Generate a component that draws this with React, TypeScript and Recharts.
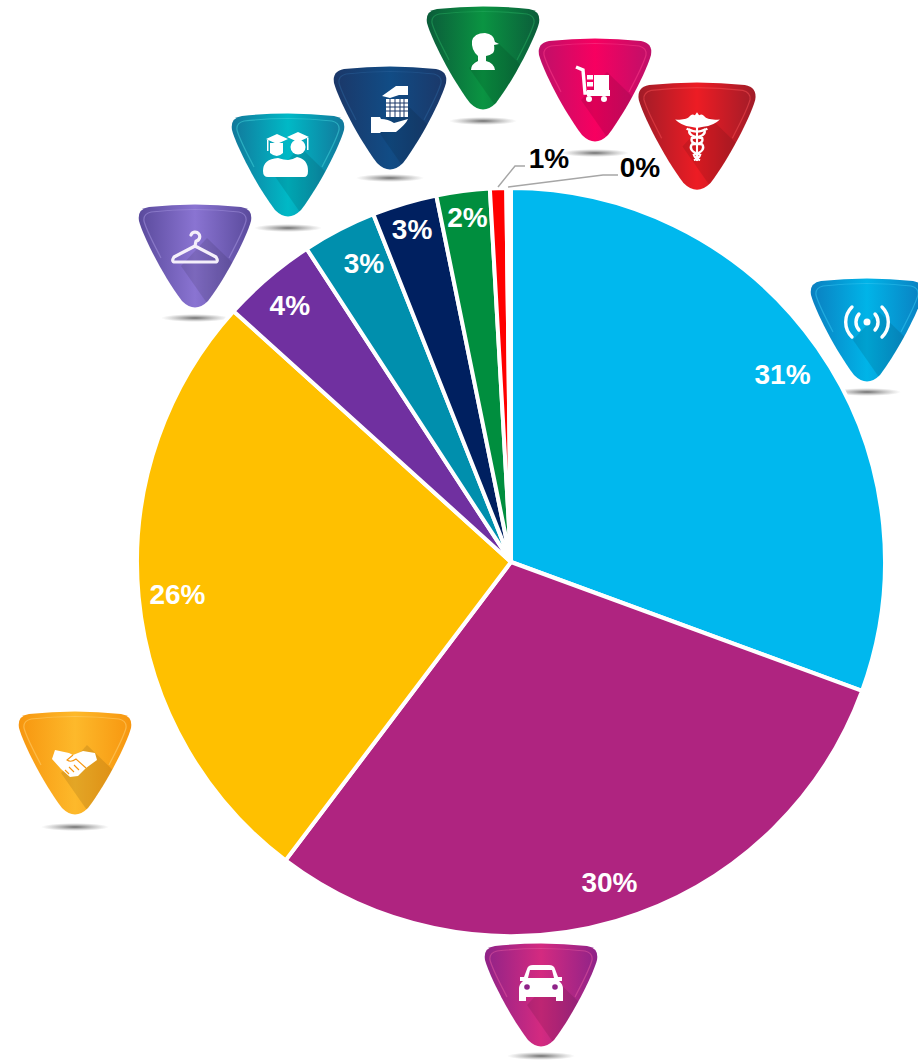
import React from "react";
import { PieChart, Pie, Cell, Customized } from "recharts";

const sectors = ["Telecom", "Auto", "Services", "Apparel", "Education", "Real estate", "Defence", "Retail", "Health"];
const shares = [30.6, 29.7, 26.4, 4.1, 3.2, 2.8, 2.3, 0.7, 0.2];
const sliceColors = ["#00B8EE", "#AF2480", "#FFC000", "#7030A0", "#008FAD", "#002060", "#008E3E", "#FF0000", "#FFFFFF"];
const labelColors = ["#fff", "#fff", "#fff", "#fff", "#fff", "#fff", "#fff", "#000", "#000"];

const data = sectors.map((name, i) => ({ name, value: shares[i] }));

const CX = 511;
const CY = 562;
const R = 374;

// label placement: radial distance plus a nudge, or a leader line for the thin slices
const labelRadius = [330, 335, 335, 339, 333, 347, 347, 0, 0];
const labelNudge = [[1, 1], [4, -1], [0, 1], [-1, 1], [6, -3], [0, 0], [1, 0], [0, 0], [0, 0]];
const leaders: Record<number, { pts: string; x: number; y: number }> = {
  7: { pts: "498,187 515,166 525,166", x: 549, y: 158 },
  8: { pts: "508,187 603,175 618,175", x: 640, y: 167 },
};

const badges = [
  { id: "wifi", x: 867, top: 278, edge: "#0B7FC0", mid: "#00B4E8", line: "#35C4F0", shadow: 392, k: 1 },
  { id: "car", x: 541, top: 943, edge: "#8F2388", mid: "#D42A80", line: "#E0559F", shadow: 1056, k: 1 },
  { id: "hands", x: 75, top: 711, edge: "#F7960F", mid: "#FDB92B", line: "#FFD070", shadow: 827, k: 1 },
  { id: "hanger", x: 195, top: 204, edge: "#5A4A9C", mid: "#8A74D2", line: "#A494DE", shadow: 318, k: 1 },
  { id: "grad", x: 288, top: 113, edge: "#12789B", mid: "#00B9C6", line: "#40D0D8", shadow: 228, k: 1 },
  { id: "build", x: 390, top: 66, edge: "#1B3768", mid: "#114C85", line: "#2A5F98", shadow: 178, k: 1 },
  { id: "person", x: 483, top: 6, edge: "#0B5C3A", mid: "#0A9442", line: "#25A85C", shadow: 121, k: 1 },
  { id: "cart", x: 595, top: 38, edge: "#BE1069", mid: "#F70060", line: "#FA3A88", shadow: 153, k: 1 },
  { id: "med", x: 697, top: 82, edge: "#A01C28", mid: "#ED1C24", line: "#F04A50", shadow: 0, k: 1.04 },
];

const BADGE =
  "M-46 3 Q0 -2 46 3 Q58 5 56 17 C52 32 32 72 13 97 Q0 110 -13 97 C-32 72 -52 32 -56 17 Q-58 5 -46 3 Z";
const INNER =
  "M-44 8 Q0 3 44 8 Q52 10 51 17 C48 28 40 42 34 54 M-34 54 C-40 42 -48 28 -51 17 Q-52 10 -44 8";

function Icon({ id, dark }: { id: string; dark: string }) {
  const w = "#fff";
  switch (id) {
    case "wifi":
      return (
        <g fill="none" stroke={w} strokeWidth={3.4} strokeLinecap="round">
          <circle cx={0} cy={44} r={3.5} fill={w} stroke="none" />
          <path d="M-8 36 A12 12 0 0 0 -8 52 M8 36 A12 12 0 0 1 8 52" />
          <path d="M-15 29 A21 21 0 0 0 -15 59 M15 29 A21 21 0 0 1 15 59" />
        </g>
      );
    case "car":
      return (
        <g>
          <path
            fillRule="evenodd"
            fill={w}
            d="M-14 26 Q-13 22 -8 22 H8 Q13 22 14 26 L17 34 H21 V38 H18 Q22 41 22 46 V58 H15 V54 H-15 V58 H-22 V46 Q-22 41 -18 38 H-21 V34 H-17 Z M-11 27 H11 L13 35 H-13 Z"
          />
          <circle cx={-14} cy={44} r={2.8} fill={dark} />
          <circle cx={14} cy={44} r={2.8} fill={dark} />
        </g>
      );
    case "hands":
      return (
        <g>
          <path
            fill={w}
            d="M-20 39 L-6 42 L-2 44 L8 40 L20 42 L22 49 L11 57 L3 65 L-5 66 L-14 58 L-23 48 Z"
          />
          <path d="M-2 44 L-8 49 Q-4 52 1 48 L11 57 M-10 59 L-6 63 M-6 56 L-1 61 M-1 54 L4 59" fill="none" stroke={dark} strokeWidth={1.1} />
        </g>
      );
    case "hanger":
      return (
        <path
          fill="none"
          stroke="#F4EFFA"
          strokeWidth={3.2}
          strokeLinecap="round"
          strokeLinejoin="round"
          d="M-4 31 A4.5 4.5 0 1 1 1 37 L0 42 L-21 53 Q-24 58 -20 58 H20 Q24 58 21 53 L0 42"
        />
      );
    case "grad":
      return (
        <g fill={w}>
          <path d="M-22 26 L-11 21 L0 26 L-11 31 Z M-1 24 L10 19 L21 24 L10 29 Z" />
          <path d="M-18 30 H-5 V40 Q-11 46 -18 40 Z" />
          <circle cx={10} cy={34} r={7.5} />
          <path d="M-21 27 H-19.5 V38 H-21 Z M19 25 H20.5 V37 H19 Z" />
          <path d="M-20 64 Q-25 64 -25 58 Q-25 46 -10 45 Q-4 47 0 47 Q4 47 9 44 Q20 46 20 58 Q20 64 16 64 Z" />
        </g>
      );
    case "build":
      return (
        <g fill={w}>
          <path d="M-8 30 L6 20 H18 V29 H9 L0 32 Z" />
          <rect x={-4} y={33} width={22} height={18} />
          <g stroke={dark} strokeWidth={1}>
            <path d="M-4 37 H18 M-4 41 H18 M-4 45 H18 M0 33 V51 M5 33 V51 M10 33 V51 M14 33 V51" />
          </g>
          <path d="M-19 51 H-10 L-9 53 Q-2 53 4 57 L18 53 Q16 58 6 66 H-9 L-10 67 H-19 Z" />
        </g>
      );
    case "person":
      return (
        <path
          fill={w}
          d="M-11 35 Q-9 27 2 27 Q11 28 12 36 L16 38 L11 39 Q12 44 10 47 Q6 50 3 50 L3 55 Q11 57 12 64 H-12 Q-12 58 -5 55 L-5 50 Q-12 44 -11 35 Z"
        />
      );
    case "cart":
      return (
        <g>
          <path d="M-19 29 L-12 32 L-10 55 H14" fill="none" stroke={w} strokeWidth={3.4} />
          <rect x={-8} y={52} width={23} height={6} fill={w} />
          <circle cx={-6} cy={61} r={3} fill={w} />
          <circle cx={9} cy={61} r={3} fill={w} />
          <rect x={-1} y={37} width={15} height={16} fill={w} />
          <rect x={-8} y={37} width={6} height={4.5} fill={w} />
          <rect x={-8} y={44} width={6} height={4.5} fill={w} />
        </g>
      );
    default:
      return (
        <g>
          <path
            fill={w}
            d="M-21 36 Q-10 37 -7 33 Q-5 30 -2 32 L0 29 L2 32 Q5 30 7 33 Q10 37 22 36 Q16 42 6 43 L1 44 H-1 L-6 43 Q-15 42 -21 36 Z"
          />
          <path d="M0 40 V76" stroke={w} strokeWidth={2} />
          <path
            d="M-10 45 Q0 50 7 46 Q10 52 -5 54 Q-7 60 5 60 Q9 66 -3 70 Q-2 74 3 75 M10 45 Q0 50 -7 46 Q-10 52 5 54 Q7 60 -5 60 Q-9 66 3 70 Q2 74 -3 75"
            fill="none"
            stroke={w}
            strokeWidth={2.2}
          />
        </g>
      );
  }
}

function Badges() {
  return (
    <g>
      <defs>
        <radialGradient id="floor">
          <stop offset="0" stopColor="#555" stopOpacity={0.85} />
          <stop offset="1" stopColor="#888" stopOpacity={0} />
        </radialGradient>
        {badges.map((b) => (
          <linearGradient key={b.id} id={"g-" + b.id} x1="0" x2="1" y1="0" y2="0">
            <stop offset="0" stopColor={b.edge} />
            <stop offset="0.5" stopColor={b.mid} />
            <stop offset="1" stopColor={b.edge} />
          </linearGradient>
        ))}
        <clipPath id="badge-clip">
          <path d={BADGE} />
        </clipPath>
      </defs>
      {badges.map((b) => (
        <g key={b.id}>
          {b.shadow > 0 && <ellipse cx={b.x} cy={b.shadow} rx={34} ry={4} fill="url(#floor)" />}
          <g transform={`translate(${b.x} ${b.top}) scale(${b.k})`}>
            <path d={BADGE} fill={`url(#g-${b.id})`} />
            <path d={INNER} fill="none" stroke={b.line} strokeWidth={1.2} opacity={0.55} />
            <g clipPath="url(#badge-clip)">
              <polygon points="12,34 70,90 30,125 -14,62" fill="#000" opacity={0.1} />
            </g>
            <Icon id={b.id} dark={b.edge} />
          </g>
        </g>
      ))}
    </g>
  );
}

function renderLabel(p: any) {
  const i: number = p.index;
  const text = `${Math.round(shares[i])}%`;
  const style = {
    fontFamily: "'Liberation Sans', Arial, sans-serif",
    fontWeight: 700,
    fontSize: 28,
  } as const;
  const lead = leaders[i];
  if (lead) {
    return (
      <g key={i}>
        <polyline points={lead.pts} fill="none" stroke="#A6A6A6" strokeWidth={1.5} />
        <text x={lead.x} y={lead.y} fill={labelColors[i]} textAnchor="middle" dominantBaseline="central" style={style}>
          {text}
        </text>
      </g>
    );
  }
  const a = (p.midAngle * Math.PI) / 180;
  const x = CX + labelRadius[i] * Math.cos(a) + labelNudge[i][0];
  const y = CY - labelRadius[i] * Math.sin(a) + labelNudge[i][1];
  return (
    <text key={i} x={x} y={y} fill={labelColors[i]} textAnchor="middle" dominantBaseline="central" style={style}>
      {text}
    </text>
  );
}

export default function App() {
  return (
    <div style={{ position: "absolute", left: 0, top: 0, width: 918, height: 1060, overflow: "hidden", background: "#fff" }}>
      <PieChart width={918} height={1060} margin={{ top: 0, right: 0, bottom: 0, left: 0 }}>
        <Customized component={<Badges />} />
        <Pie
          data={data}
          dataKey="value"
          nameKey="name"
          cx={CX}
          cy={CY}
          outerRadius={R}
          innerRadius={0}
          startAngle={90}
          endAngle={-270}
          stroke="#fff"
          strokeWidth={4}
          label={renderLabel}
          labelLine={false}
          isAnimationActive={false}
        >
          {data.map((d, i) => (
            <Cell key={d.name} fill={sliceColors[i]} />
          ))}
        </Pie>
      </PieChart>
    </div>
  );
}
